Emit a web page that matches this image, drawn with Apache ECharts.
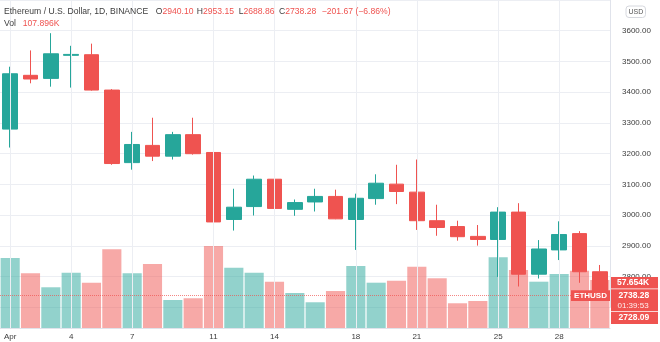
<!DOCTYPE html>
<html><head><meta charset="utf-8">
<script src="https://cdn.jsdelivr.net/npm/echarts@6/dist/echarts.min.js"></script>
<style>html,body{margin:0;padding:0;background:#fff}#c{width:660px;height:342px}</style>
</head><body><div id="c"></div>
<script>
const categories = ['2022-04-01','2022-04-02','2022-04-03','2022-04-04','2022-04-05','2022-04-06','2022-04-07','2022-04-08','2022-04-09','2022-04-10',
  '2022-04-11','2022-04-12','2022-04-13','2022-04-14','2022-04-15','2022-04-16','2022-04-17','2022-04-18','2022-04-19','2022-04-20',
  '2022-04-21','2022-04-22','2022-04-23','2022-04-24','2022-04-25','2022-04-26','2022-04-27','2022-04-28','2022-04-29','2022-04-30'];
const openP  = [3280,3455,3445,3520,3522,3407,3171,3227,3192,3262, 3204,2986,3028,3117,3019,3043,3061,2986,3054,3101, 3075,2982,2963,2931,2921,3010,2808,2887,2940,2816];
const closeP = [3460,3443,3525,3523,3407,3168,3230,3192,3262,3200, 2978,3026,3117,3022,3041,3061,2988,3055,3104,3077, 2982,2960,2930,2921,3010,2808,2890,2937,2816,2738.28];
const lowP   = [3220,3429,3418,3415,3405,3164,3148,3176,3181,3197, 2954,2950,2999,2976,2998,3012,2987,2887,3034,3036, 2952,2933,2917,2901,2799,2768,2794,2854,2780,2728];
const highP  = [3483,3536,3592,3551,3558,3410,3271,3317,3271,3317, 3217,3086,3129,3148,3051,3086,3083,3070,3133,3164, 3181,3034,2982,2968,3026,3039,2919,2980,2948,2838];
const volumeK = [84.1,65.7,48.9,66.4,54.4,94.5,65.7,76.9,33.6,35.7, 98.5,72.4,66.4,55.6,42.0,30.9,44.4,74.5,54.4,56.8, 73.6,59.7,29.7,32.4,84.9,69.7,55.6,64.9,68.8,57.654];
const tickDates  = ['2022-04-01','2022-04-04','2022-04-07','2022-04-11','2022-04-14','2022-04-18','2022-04-21','2022-04-25','2022-04-28'];
const tickLabels = ['Apr','4','7','11','14','18','21','25','28'];
const headerTitle = 'Ethereum / U.S. Dollar, 1D, BINANCE';
const headerKeys = ['O','H','L','C'];
const headerVals = ['2940.10','2953.15','2688.86','2738.28'];
const headerChange = '\u2212201.67 (\u22126.86%)';
const headerVol = '107.896K';
const countdown = '01:39:53';
const bidPrice = '2728.09';
const symbolName = 'ETHUSD';

const UP = '#26a69a', DOWN = '#ef5350';
const chart = echarts.init(document.getElementById('c'), null, {renderer:'canvas'});
const n = categories.length;
const candleData = categories.map((c,i)=>[openP[i], closeP[i], lowP[i], highP[i]]);
const volData = volumeK.map((v,i)=>({value:v, itemStyle:{color: closeP[i] >= openP[i] ? 'rgba(38,166,154,0.5)' : 'rgba(239,83,80,0.5)'}}));
const lastClose = closeP[n-1];
const font = 'Liberation Sans, Arial, sans-serif';
const GRID = '#eceef3';

const headerX = [155.7, 196.7, 238.7, 279];
const graphic = [];
graphic.push({type:'text', left:4, top:7.5, style:{text:headerTitle, fill:'#3c3c3c', font:'8.6px ' + font}, z:100});
headerKeys.forEach((k,i)=>{
  graphic.push({type:'text', left:headerX[i], top:7.5, style:{text:'{k|'+k+'}{v|'+headerVals[i]+'}', rich:{k:{fill:'#3c3c3c', font:'8.6px '+font}, v:{fill:'#ef5350', font:'8.6px '+font}}}, z:100});
});
graphic.push({type:'text', left:321.7, top:7.5, style:{text:headerChange, fill:'#ef5350', font:'8.6px ' + font}, z:100});
graphic.push({type:'text', left:4, top:19.5, style:{text:'Vol', fill:'#3c3c3c', font:'8.6px ' + font}, z:100});
graphic.push({type:'text', left:22.7, top:19.5, style:{text:headerVol, fill:'#ef5350', font:'8.6px ' + font}, z:100});
// USD badge
graphic.push({type:'rect', shape:{x:626, y:6, width:19.5, height:11.5, r:3}, style:{fill:'#fff', stroke:'#d6d8de', lineWidth:1}, z:100});
graphic.push({type:'text', style:{x:635.8, y:12, text:'USD', fill:'#555', font:'7px '+font, textAlign:'center', textVerticalAlign:'middle'}, z:101});
// right tags
graphic.push({type:'rect', shape:{x:611, y:277, width:47, height:11.5}, style:{fill:'#ef5350'}, z:100});
graphic.push({type:'text', style:{x:617, y:283, text:volumeK[n-1].toFixed(3)+'K', fill:'#fff', font:'bold 8.5px '+font, textVerticalAlign:'middle'}, z:101});
graphic.push({type:'rect', shape:{x:611, y:289.2, width:47, height:22}, style:{fill:'#ef5350'}, z:100});
graphic.push({type:'text', style:{x:618.5, y:295.6, text:lastClose.toFixed(2), fill:'#fff', font:'bold 8.5px '+font, textVerticalAlign:'middle'}, z:101});
graphic.push({type:'text', style:{x:617.5, y:306, text:countdown, fill:'rgba(255,255,255,0.9)', font:'8px '+font, textVerticalAlign:'middle'}, z:101});
graphic.push({type:'rect', shape:{x:611, y:312, width:47, height:12}, style:{fill:'#ef5350'}, z:100});
graphic.push({type:'text', style:{x:618.5, y:318, text:bidPrice, fill:'#fff', font:'bold 8.5px '+font, textVerticalAlign:'middle'}, z:101});
graphic.push({type:'rect', shape:{x:571, y:290.2, width:39, height:10.8}, style:{fill:'#ef5350'}, z:100});
graphic.push({type:'text', style:{x:590.5, y:295.8, text:symbolName, fill:'#fff', font:'bold 8px '+font, textAlign:'center', textVerticalAlign:'middle'}, z:101});

const option = {
  animation:false,
  backgroundColor:'#ffffff',
  graphic: graphic,
  grid:[
    {left:0, width:610, top:-0.6, height:308},
    {left:0, width:610, top:0, height:328}
  ],
  xAxis:[
    {type:'category', gridIndex:0, data:categories, boundaryGap:true, axisLine:{show:false}, axisTick:{show:false}, axisLabel:{show:false}, splitLine:{show:false}},
    {type:'category', gridIndex:1, data:categories, boundaryGap:true,
      axisLine:{show:true, lineStyle:{color:'#e0e3eb', width:1}}, axisTick:{show:false},
      axisLabel:{show:true, color:'#3c3c3c', fontSize:8, fontFamily:font, margin:5,
        interval:(i,v)=>tickDates.indexOf(v) >= 0,
        formatter:(v)=>tickLabels[tickDates.indexOf(v)]},
      splitLine:{show:false}}
  ],
  yAxis:[
    {type:'value', gridIndex:0, position:'right', min:2700, max:3700, interval:100, scale:true,
      axisLine:{show:true, lineStyle:{color:'#e0e3eb'}}, axisTick:{show:false},
      axisLabel:{show:true, color:'#3c3c3c', fontSize:8, fontFamily:font, margin:12, align:'left',
        showMinLabel:false, showMaxLabel:false, formatter:(v)=>v.toFixed(2)},
      splitLine:{show:true, lineStyle:{color:GRID, width:1}}},
    {type:'value', gridIndex:1, min:0, max:393.9, show:false, splitLine:{show:false}}
  ],
  series:[
    {type:'line', xAxisIndex:1, yAxisIndex:1, data:volumeK, showSymbol:false, silent:true, z:0,
      lineStyle:{opacity:0, width:0},
      markLine:{silent:true, symbol:'none', label:{show:false}, animation:false,
        lineStyle:{color:GRID, width:1, type:'solid'},
        data: tickDates.map(d=>({xAxis:d}))}},
    {type:'bar', xAxisIndex:1, yAxisIndex:1, data:volData, barWidth:'94%', z:2, silent:true},
    {type:'candlestick', xAxisIndex:0, yAxisIndex:0, data:candleData, barWidth:'76%', z:3, silent:true,
      itemStyle:{color:UP, color0:DOWN, borderColor:UP, borderColor0:DOWN, borderWidth:1},
      markLine:{silent:true, symbol:'none', label:{show:false}, animation:false,
        lineStyle:{color:'rgba(239,83,80,0.7)', width:1, type:'dotted'},
        data:[{yAxis:lastClose}]}}
  ]
};
chart.setOption(option);
</script></body></html>
